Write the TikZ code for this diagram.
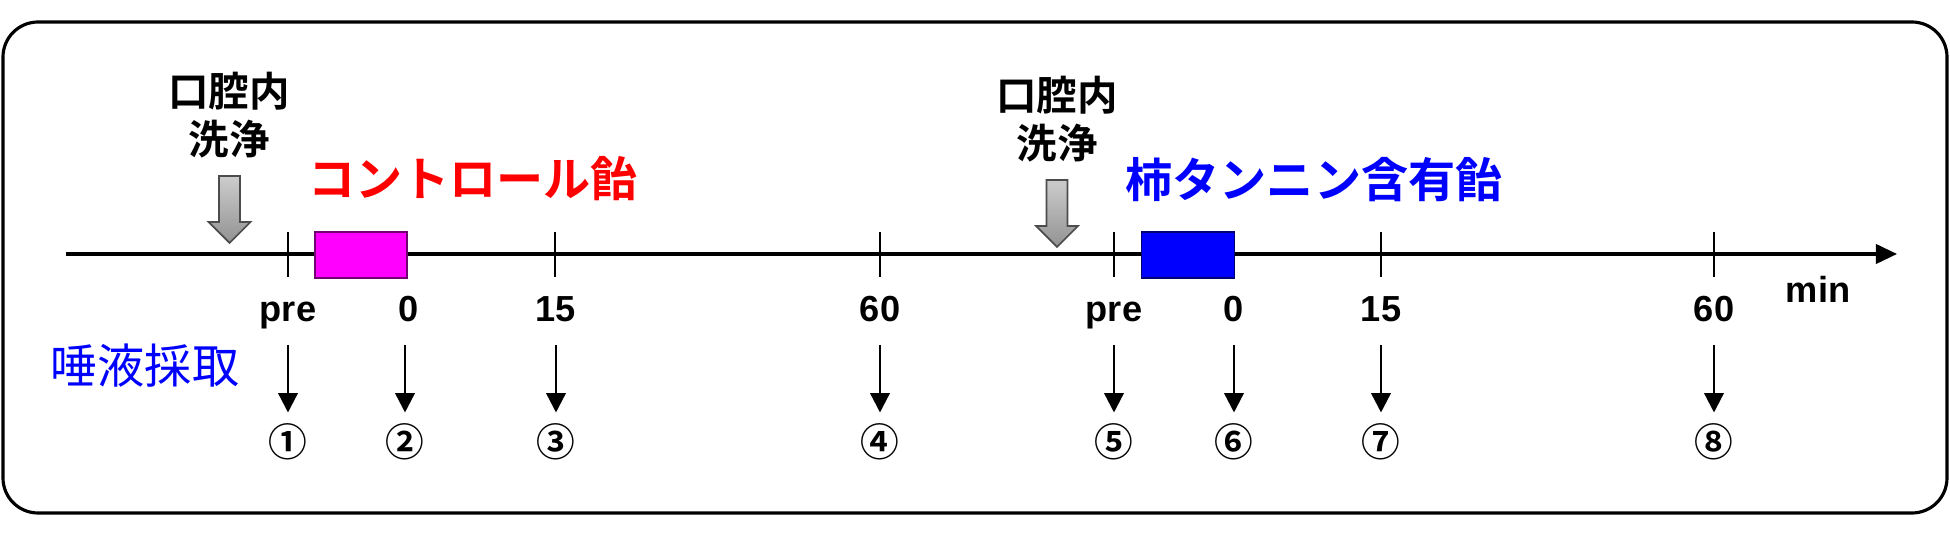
\documentclass[tikz,border=0pt]{standalone}
\usepackage{fontspec}
\setmainfont{Liberation Sans}
\newfontfamily\jpfont{Noto Sans CJK JP}[BoldFont={Noto Sans CJK JP Bold}]
\usetikzlibrary{arrows.meta, positioning, calc}
\definecolor{candypink}{RGB}{255,0,255}
\definecolor{candyblue}{RGB}{0,0,255}

\tikzset{
    washarrow/.pic={
        \draw[top color=gray!40, bottom color=gray!85, draw=gray!60!black, line width=0.5pt]
            (-10.5,0) -- (10.5,0) -- (10.5,46) -- (21,46) -- (0,67)
            -- (-21,46) -- (-10.5,46) -- cycle;
    }
}

\begin{document}
\begin{tikzpicture}[x=0.01cm, y=-0.01cm,
    every node/.style={inner sep=0pt},
    frame/.style={line width=0.9pt, rounded corners=0.35cm},
    axisline/.style={line width=0.9pt, -{Triangle[length=6pt, width=5.5pt]}},
    ticklin/.style={line width=0.8pt},
    candy/.style={draw, line width=0.5pt, minimum width=0.92cm, minimum height=0.46cm},
    washtext/.style={font=\jpfont\bfseries\fontsize{11.5}{13.7}\selectfont, align=center},
    candytitle/.style={font=\jpfont\bfseries\fontsize{13.4}{16}\selectfont},
    timelab/.style={anchor=base, font=\fontsize{10.3}{12}\selectfont\bfseries},
    sample/.style={line width=0.7pt, -{Triangle[length=5.5pt, width=5.5pt]}, shorten >=3pt},
    circnum/.style={font=\jpfont\bfseries\fontsize{11}{13}\selectfont}]

    \useasboundingbox (0,0) rectangle (1950,537);
    \draw[frame] (3,22) rectangle (1947,513);

    % time axis
    \coordinate (axstart) at (66,254);
    \coordinate (axend) at (1897,254);
    \draw[axisline] (axstart) -- (axend);
    \foreach \x in {288,555,880,1114,1381,1714}
        \draw[ticklin] (\x,232) -- (\x,277);

    % candies
    \node[candy, fill=candypink, draw=candypink!45!black] (ccandy) at (361,255) {};
    \node[candy, fill=candyblue, draw=candyblue!45!black, minimum width=0.93cm] (kcandy) at (1188,255) {};
    \node[candytitle, text=red] (ctitle) at (473,179) {コントロール飴};
    \node[candytitle, text=candyblue] (ktitle) at (1314,180) {柿タンニン含有飴};

    % mouth rinse
    \node[washtext] (wash1) at (229,115) {口腔内\\洗浄};
    \node[washtext] (wash2) at (1057,119) {口腔内\\洗浄};
    \pic at (229.5,176) {washarrow};
    \pic at (1057,180) {washarrow};

    % time labels
    \foreach \n/\x/\t in {1/288/pre, 2/409/0, 3/556/15, 4/880/60,
                          5/1114/pre, 6/1234/0, 7/1381/15, 8/1714/60}
        \node[timelab] (lab\n) at (\x,322) {\t};
    \node[timelab] (unit) at (1818,303) {min};

    % saliva sampling
    \node[font=\jpfont\fontsize{13.4}{16}\selectfont, text=candyblue] (saliva) at (145,366) {唾液採取};
    \foreach \n/\x/\c in {1/288/①, 2/405/②, 3/556/③, 4/880/④,
                          5/1114/⑤, 6/1234/⑥, 7/1381/⑦, 8/1714/⑧} {
        \coordinate (s\n) at (\x,345);
        \node[circnum] (c\n) at (\x,442) {\c};
        \draw[sample] (s\n) -- (c\n.north);
    }
\end{tikzpicture}
\end{document}
